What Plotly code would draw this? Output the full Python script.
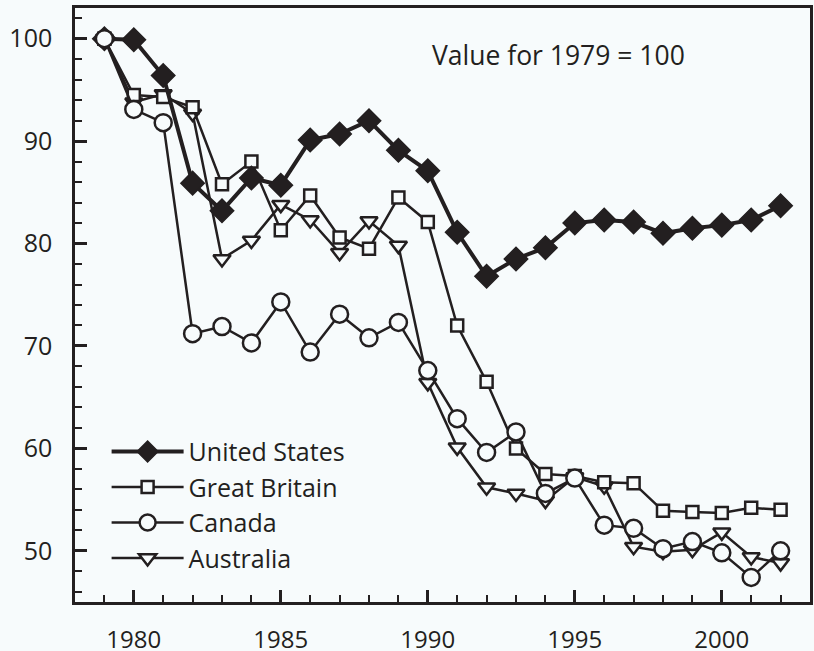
import plotly.graph_objects as go

years = list(range(1979, 2003))

united_states = [100.0, 99.9, 96.4, 85.9, 83.2, 86.4, 85.7, 90.1, 90.7, 92.0, 89.1, 87.1,
                 81.1, 76.8, 78.5, 79.6, 82.0, 82.3, 82.1, 81.0, 81.5, 81.8, 82.3, 83.7]
great_britain = [100.0, 94.5, 94.3, 93.3, 85.8, 88.0, 81.3, 84.7, 80.6, 79.5, 84.5, 82.1,
                 72.0, 66.5, 60.0, 57.5, 57.3, 56.7, 56.6, 53.9, 53.8, 53.7, 54.2, 54.0]
canada = [100.0, 93.1, 91.8, 71.2, 71.9, 70.3, 74.3, 69.4, 73.1, 70.8, 72.3, 67.6,
          62.9, 59.6, 61.6, 55.6, 57.1, 52.5, 52.2, 50.2, 50.9, 49.8, 47.4, 50.0]
australia = [100.0, 93.8, 94.6, 92.7, 78.5, 80.3, 83.8, 82.3, 79.1, 82.2, 79.8, 66.4,
             60.1, 56.2, 55.6, 54.9, 57.2, 56.3, 50.4, 49.9, 50.1, 51.8, 49.4, 48.8]

x_ticks = [1980, 1985, 1990, 1995, 2000]
y_ticks = [50, 60, 70, 80, 90, 100]
note_text = "Value for 1979 = 100"

INK = "#231f20"
BG = "#f7fbfc"
FONT = "Open Sans"

fig = go.Figure()

series = [
    ("Australia", australia, "triangle-down", 15, 2.5, BG, 2.5),
    ("Great Britain", great_britain, "square", 12, 2.5, BG, 2.5),
    ("United States", united_states, "diamond", 18, 4, INK, 1.5),
    ("Canada", canada, "circle", 17, 2.5, BG, 2.5),
]
legend_rank = {"United States": 1, "Great Britain": 2, "Canada": 3, "Australia": 4}

for name, vals, sym, size, lw, fill, mlw in series:
    fig.add_trace(go.Scatter(
        x=years, y=vals, name=name, mode="lines+markers",
        line=dict(color=INK, width=lw),
        marker=dict(symbol=sym, size=size, color=fill, line=dict(color=INK, width=mlw)),
        legendrank=legend_rank[name],
    ))

fig.add_annotation(
    x=0.483, y=0.921, xref="paper", yref="paper", xanchor="left", yanchor="middle",
    text=note_text, showarrow=False, font=dict(family=FONT, size=26.5, color=INK),
)

fig.update_layout(
    template="simple_white",
    width=814, height=651,
    margin=dict(l=75, r=4, t=8, b=49),
    paper_bgcolor=BG, plot_bgcolor=BG,
    font=dict(family=FONT, color=INK),
    xaxis=dict(range=[1978, 2003], tickmode="array", tickvals=x_ticks,
               showgrid=False, zeroline=False, showline=True, linewidth=2.5, linecolor=INK,
               mirror=True, ticks="inside", ticklen=12, tickwidth=3, tickcolor=INK,
               automargin=False, tickfont=dict(family=FONT, size=24, color=INK),
               minor=dict(dtick=1, ticks="inside", ticklen=7, tickwidth=2, tickcolor=INK),
               ticklabelstandoff=14),
    yaxis=dict(range=[45, 103], tickmode="array", tickvals=y_ticks,
               showgrid=False, zeroline=False, showline=True, linewidth=2.5, linecolor=INK,
               mirror=True, ticks="inside", ticklen=12, tickwidth=3, tickcolor=INK,
               automargin=False, tickfont=dict(family=FONT, size=25, color=INK),
               ticklabelstandoff=15,
               minor=dict(dtick=2, ticks="inside", ticklen=7, tickwidth=2, tickcolor=INK)),
    legend=dict(x=0.043, y=0.2916, xanchor="left", yanchor="top", bgcolor="rgba(0,0,0,0)",
                font=dict(family=FONT, size=25, color=INK), itemwidth=72,
                tracegroupgap=0),
    showlegend=True,
)

fig.write_html(
    "out.html",
    config={"displayModeBar": False},
    post_script="document.body.style.margin='0px';document.body.style.overflow='hidden';",
)
